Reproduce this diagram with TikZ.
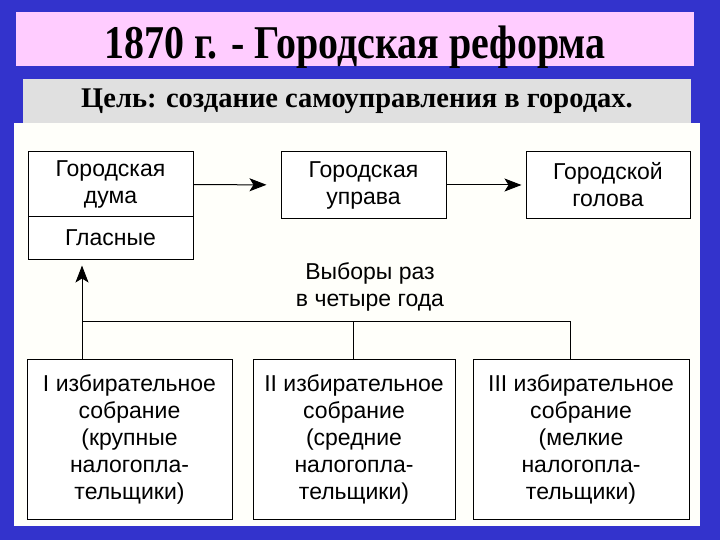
\documentclass[tikz,border=0pt]{standalone}
\usepackage{graphicx}
\usepackage{fontspec}
\setmainfont{Liberation Serif}
\newfontfamily\diag{Liberation Sans}
\usetikzlibrary{arrows.meta}
\definecolor{bgblue}{RGB}{51,51,204}
\definecolor{titlepink}{RGB}{255,204,255}
\definecolor{goalgray}{RGB}{224,224,224}
\definecolor{panel}{RGB}{255,255,250}
\tikzset{
  dbox/.style={draw, line width=1pt, fill=white, inner sep=0pt, align=center,
    font=\diag\fontsize{23}{27}\selectfont},
  conn/.style={line width=1pt},
  arr/.style={line width=1pt, -{Stealth[length=17pt,width=13pt,inset=4pt]}},
}
\begin{document}
\begin{tikzpicture}[x=1pt,y=-1pt]
\fill[bgblue] (0,0) rectangle (720,540);
\useasboundingbox (0,0) rectangle (720,540);
\fill[panel] (14,123) rectangle (700,526);
\node[fill=titlepink, minimum width=678pt, minimum height=54pt, inner sep=0pt] (titlebox) at (355,39) {};
\node[anchor=base, inner sep=0pt, font=\bfseries\fontsize{47}{47}\selectfont] (title) at (355,59)
  {\scalebox{0.85}[1]{1870 г. - Городская реформа}};
\node[fill=goalgray, minimum width=668pt, minimum height=44pt, inner sep=0pt] (goalbox) at (357,101) {};
\node[anchor=base, inner sep=0pt, font=\bfseries\fontsize{28.5}{28.5}\selectfont] (goal) at (357,108)
  {Цель: создание самоуправления в городах.};
% top row
\node[dbox, minimum width=165pt, minimum height=65pt] (duma) at (110.5,184.5) {Городская\\дума};
\node[dbox, minimum width=165pt, minimum height=42pt] (glas) at (110.5,238) {Гласные};
\node[dbox, minimum width=165pt, minimum height=67pt] (uprava) at (363.5,185) {Городская\\управа};
\node[dbox, minimum width=164pt, minimum height=67pt] (golova) at (608,185) {Городской\\голова};
\node[align=center, inner sep=0pt, font=\diag\fontsize{23}{27}\selectfont] (vybory) at (370,287) {Выборы раз\\в четыре года};
% bottom row
\node[dbox, minimum width=205pt, minimum height=160pt] (b1) at (129.5,439) {I избирательное\\собрание\\(крупные\\налогопла-\\тельщики)};
\node[dbox, minimum width=202pt, minimum height=160pt] (b2) at (354,439) {II избирательное\\собрание\\(средние\\налогопла-\\тельщики)};
\node[dbox, minimum width=216pt, minimum height=160pt] (b3) at (581,439) {III избирательное\\собрание\\(мелкие\\налогопла-\\тельщики)};
% connectors
\draw[arr, shorten >=14pt] (duma) -- (uprava);
\draw[arr, shorten >=4pt] (uprava) -- (golova);
\coordinate (j1) at (82,321);
\coordinate (j2) at (353,321);
\coordinate (j3) at (570,321);
\draw[conn] (j1) -- (j3);
\draw[conn] (j1) -- (b1.north -| j1);
\draw[conn] (j2) -- (b2.north -| j2);
\draw[conn] (j3) -- (b3.north -| j3);
\draw[arr, shorten >=6pt] (j1) -- (glas.south -| j1);
\end{tikzpicture}
\end{document}
